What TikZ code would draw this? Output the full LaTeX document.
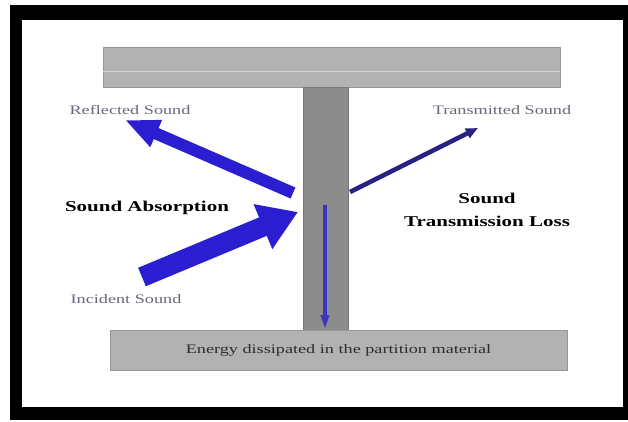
\documentclass[tikz,border=0pt]{standalone}
\usepackage{fontspec}
\setmainfont{Liberation Serif}
\usepackage{graphicx}
\usetikzlibrary{arrows.meta}
\definecolor{arrowblue}{RGB}{42,30,208}
\definecolor{navyarrow}{RGB}{40,35,130}
\definecolor{slabgray}{RGB}{178,178,178}
\definecolor{slabedge}{RGB}{150,150,150}
\definecolor{colgray}{RGB}{140,140,140}
\definecolor{coledge}{RGB}{120,120,120}
\definecolor{labelgray}{RGB}{105,105,120}
\definecolor{bottomtext}{RGB}{45,45,45}
\newcommand{\wdtext}[1]{\scalebox{1.4}[1]{#1}}
\begin{document}
\begin{tikzpicture}[x=1pt,y=-1pt,
  slab/.style={draw=slabedge, fill=slabgray, line width=0.8pt, inner sep=0pt, minimum width=457pt, minimum height=40pt},
  column/.style={draw=coledge, fill=colgray, line width=0.8pt, inner sep=0pt, minimum width=45pt, minimum height=243pt},
  smalllabel/.style={text=labelgray, font=\fontsize{13}{15}\selectfont, inner sep=0pt},
  boldlabel/.style={text=black, font=\fontsize{15}{23}\selectfont\bfseries, inner sep=0pt, align=center},
  bigarrow/.style={draw=arrowblue, line cap=butt},
]
\useasboundingbox (0,0) rectangle (628,421);
% frame
\fill[black] (10,5) rectangle (628,420);
\fill[white] (22,20) rectangle (623,407);
% structure
\node[slab] (topslab) at (331.5,67) {};
\draw[white!45!slabgray, line width=0.8pt] ([yshift=-4pt]topslab.west) -- ([yshift=-4pt]topslab.east);
\node[column] (col) at (325.5,208.5) {};
\node[slab, font=\fontsize{13}{15}\selectfont, text=bottomtext] (botslab) at (338.5,350) {\wdtext{Energy dissipated in the partition material}};
% arrow end points
\coordinate (inctail) at (142,277);
\coordinate (inctip) at (298,212);
\coordinate (reftail) at (293,193);
\coordinate (reftip) at (125,120);
\coordinate (trtail) at (350,192);
\coordinate (trtip) at (478,128);
\coordinate (dntail) at (325,205);
\coordinate (dntip) at (325,329);
% arrows
\draw[bigarrow, line width=20pt, -{Triangle[length=38pt,width=46pt]}] (inctail) -- (inctip);
\draw[bigarrow, line width=12pt, -{Triangle[length=34pt,width=27pt]}] (reftail) -- (reftip);
\draw[draw=navyarrow, line width=4.5pt, -{Triangle[length=12pt,width=10pt]}] (trtail) -- (trtip);
\draw[draw=arrowblue!80!colgray, line width=3.5pt, -{Triangle[length=14pt,width=8pt]}] (dntail) -- (dntip);
% labels
\node[smalllabel] (reflbl) at (130,110) {\wdtext{Reflected Sound}};
\node[smalllabel] (trlbl) at (502,110) {\wdtext{Transmitted Sound}};
\node[smalllabel] (inclbl) at (126,299) {\wdtext{Incident Sound}};
\node[boldlabel] (abslbl) at (147,208) {\wdtext{Sound Absorption}};
\node[boldlabel] (tllbl) at (487,210) {\wdtext{Sound}\\\wdtext{Transmission Loss}};
\end{tikzpicture}
\end{document}
